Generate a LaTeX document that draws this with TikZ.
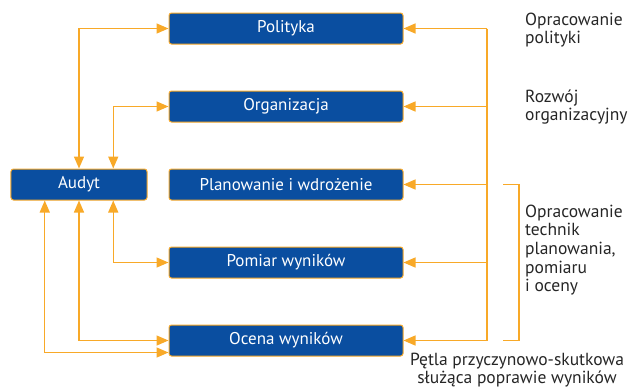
\documentclass[tikz,border=0pt]{standalone}
\usepackage{fontspec}
\setmainfont{PT Sans}
\usepackage{xcolor}
\usepackage{tikz}
\usetikzlibrary{arrows.meta,positioning,calc}

\definecolor{boxblue}{RGB}{10,78,160}
\definecolor{loop}{RGB}{248,169,40}

\begin{document}
\begin{tikzpicture}[
  x=1bp, y=-1bp,
  box/.style={draw=loop, fill=boxblue, rounded corners=2.5bp, line width=1bp,
    text=white, minimum width=234bp, minimum height=31bp, inner sep=0pt,
    font=\fontsize{17bp}{19bp}\selectfont},
  arr/.style={-{Triangle[length=12bp,width=10bp]}, draw=loop, line width=1.4bp},
  darr/.style={{Triangle[length=12bp,width=10bp]}-{Triangle[length=12bp,width=10bp]}, draw=loop, line width=1.4bp},
  wire/.style={draw=loop, line width=1.4bp},
  note/.style={align=left, inner sep=0pt, font=\fontsize{17.5bp}{18.7bp}\selectfont, text=black!85},
  caption/.style={align=center, inner sep=0pt, font=\fontsize{17.5bp}{18.5bp}\selectfont, text=black!85}
]
\useasboundingbox (0,0) rectangle (629,388);

\node[box] (pol) at (286,28.5) {Polityka};
\node[box, below=46bp of pol] (org) {Organizacja};
\node[box, below=46bp of org] (pla) {Planowanie i wdrożenie};
\node[box, below=46bp of pla] (pom) {Pomiar wyników};
\node[box, below=46bp of pom] (oce) {Ocena wyników};
\node[box, minimum width=136bp, left=21bp of pla] (aud) {Audyt};

% feedback rail on the right
\coordinate (rail) at (487,0);
\draw[wire] (rail |- pol.east) -- (rail |- oce.east);
\foreach \n in {pol,org,pla,pom,oce}
  \draw[arr] (rail |- \n.east) -- (\n.east);

% links to the audit
\coordinate (inA) at ($(aud.north)!0.5!(aud.north east)$);
\coordinate (inB) at ($(aud.south)!0.5!(aud.south east)$);
\coordinate (outB) at ($(aud.south)!0.5!(aud.south west)$);
\draw[darr] (aud.north) |- (pol.west);
\draw[darr] (inA) |- (org.west);
\draw[darr] (inB) |- (pom.west);
\draw[darr] (aud.south) |- (oce.west);
\draw[darr] (outB) |- ([yshift=4bp]oce.south west);

% bracket
\coordinate (brk) at (519,0);
\draw[wire, line width=1.2bp] ([xshift=-16bp]brk |- pla.east) -- (brk |- pla.east)
  -- (brk |- oce.east) -- ++(-16,0);

\node[note, anchor=west] (tpol) at (525,30) {Opracowanie\\polityki};
\node[note, anchor=west] (torg) at (525,107) {Rozwój\\organizacyjny};
\node[note, anchor=west] (ttech) at (525,250) {Opracowanie\\technik\\planowania,\\pomiaru\\i oceny};
\node[caption] (tloop) at (517,370) {Pętla przyczynowo-skutkowa\\służąca poprawie wyników};
\end{tikzpicture}
\end{document}
